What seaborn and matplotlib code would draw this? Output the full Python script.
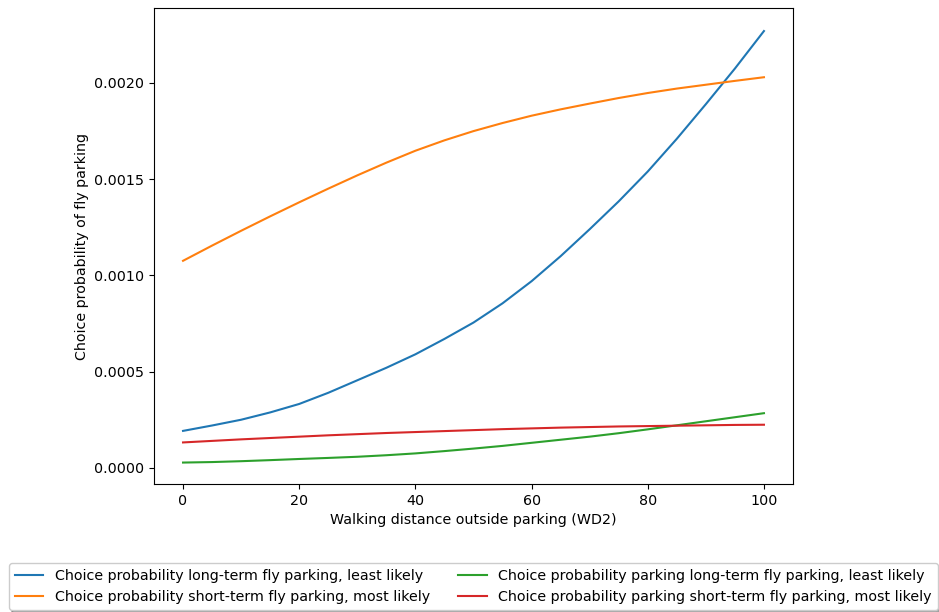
import matplotlib
matplotlib.use("Agg")
import matplotlib.pyplot as plt
import seaborn as sns
import pandas as pd

wd2 = [0, 5, 10, 15, 20, 25, 30, 35, 40, 45, 50, 55, 60, 65, 70, 75, 80, 85, 90, 95, 100]
long_least = [0.000192, 0.000220, 0.000250, 0.000288, 0.000332, 0.000390, 0.000455, 0.000520,
              0.000590, 0.000670, 0.000755, 0.000855, 0.000970, 0.001100, 0.001240, 0.001385,
              0.001540, 0.001710, 0.001890, 0.002075, 0.002270]
short_most = [0.001076, 0.001155, 0.001232, 0.001307, 0.001380, 0.001451, 0.001520, 0.001586,
              0.001648, 0.001702, 0.001750, 0.001792, 0.001830, 0.001863, 0.001893, 0.001922,
              0.001948, 0.001971, 0.001991, 0.002011, 0.002030]
pk_long_least = [0.0000274, 0.0000300, 0.0000345, 0.0000400, 0.0000460, 0.0000515, 0.0000575,
                 0.0000655, 0.0000750, 0.0000870, 0.0001000, 0.0001140, 0.0001300, 0.0001460,
                 0.0001620, 0.0001800, 0.0002000, 0.0002210, 0.0002420, 0.0002630, 0.0002840]
pk_short_most = [0.000132, 0.000140, 0.000148, 0.000155, 0.000162, 0.000169, 0.000175, 0.000181,
                 0.000186, 0.000191, 0.000196, 0.000201, 0.000205, 0.000209, 0.000212, 0.000215,
                 0.000217, 0.000219, 0.000221, 0.000223, 0.000224]

labels = [
    "Choice probability long-term fly parking, least likely",
    "Choice probability short-term fly parking, most likely",
    "Choice probability parking long-term fly parking, least likely",
    "Choice probability parking short-term fly parking, most likely",
]
series = [long_least, short_most, pk_long_least, pk_short_most]

rows = []
for lab, vals in zip(labels, series):
    for x, v in zip(wd2, vals):
        rows.append({"WD2": x, "p": v, "series": lab})
df = pd.DataFrame(rows)

plt.rcParams["font.size"] = 10.3
fig = plt.figure(figsize=(9.39, 6.12), dpi=100)
ax = fig.add_axes([0.164, 0.209, 0.6805, 0.778])
sns.lineplot(data=df, x="WD2", y="p", hue="series", hue_order=labels,
             palette=["#1f77b4", "#ff7f0e", "#2ca02c", "#d62728"], ax=ax, linewidth=1.5)
ax.set_xlabel("Walking distance outside parking (WD2)")
ax.set_ylabel("Choice probability of fly parking")
ax.set_yticks([0.0, 0.0005, 0.0010, 0.0015, 0.0020])
ax.set_yticklabels(["0.0000", "0.0005", "0.0010", "0.0015", "0.0020"])
ax.set_xlim(-5, 105)
ax.set_ylim(-0.0000845, 0.00239)
ax.get_legend().remove()
handles, labs = ax.get_legend_handles_labels()
fig.legend(handles, labs, loc="upper center", bbox_to_anchor=(0.504, 0.091), ncol=2,
           shadow=True, fancybox=True, fontsize=10.3)
fig.savefig("out.png", dpi=100)
